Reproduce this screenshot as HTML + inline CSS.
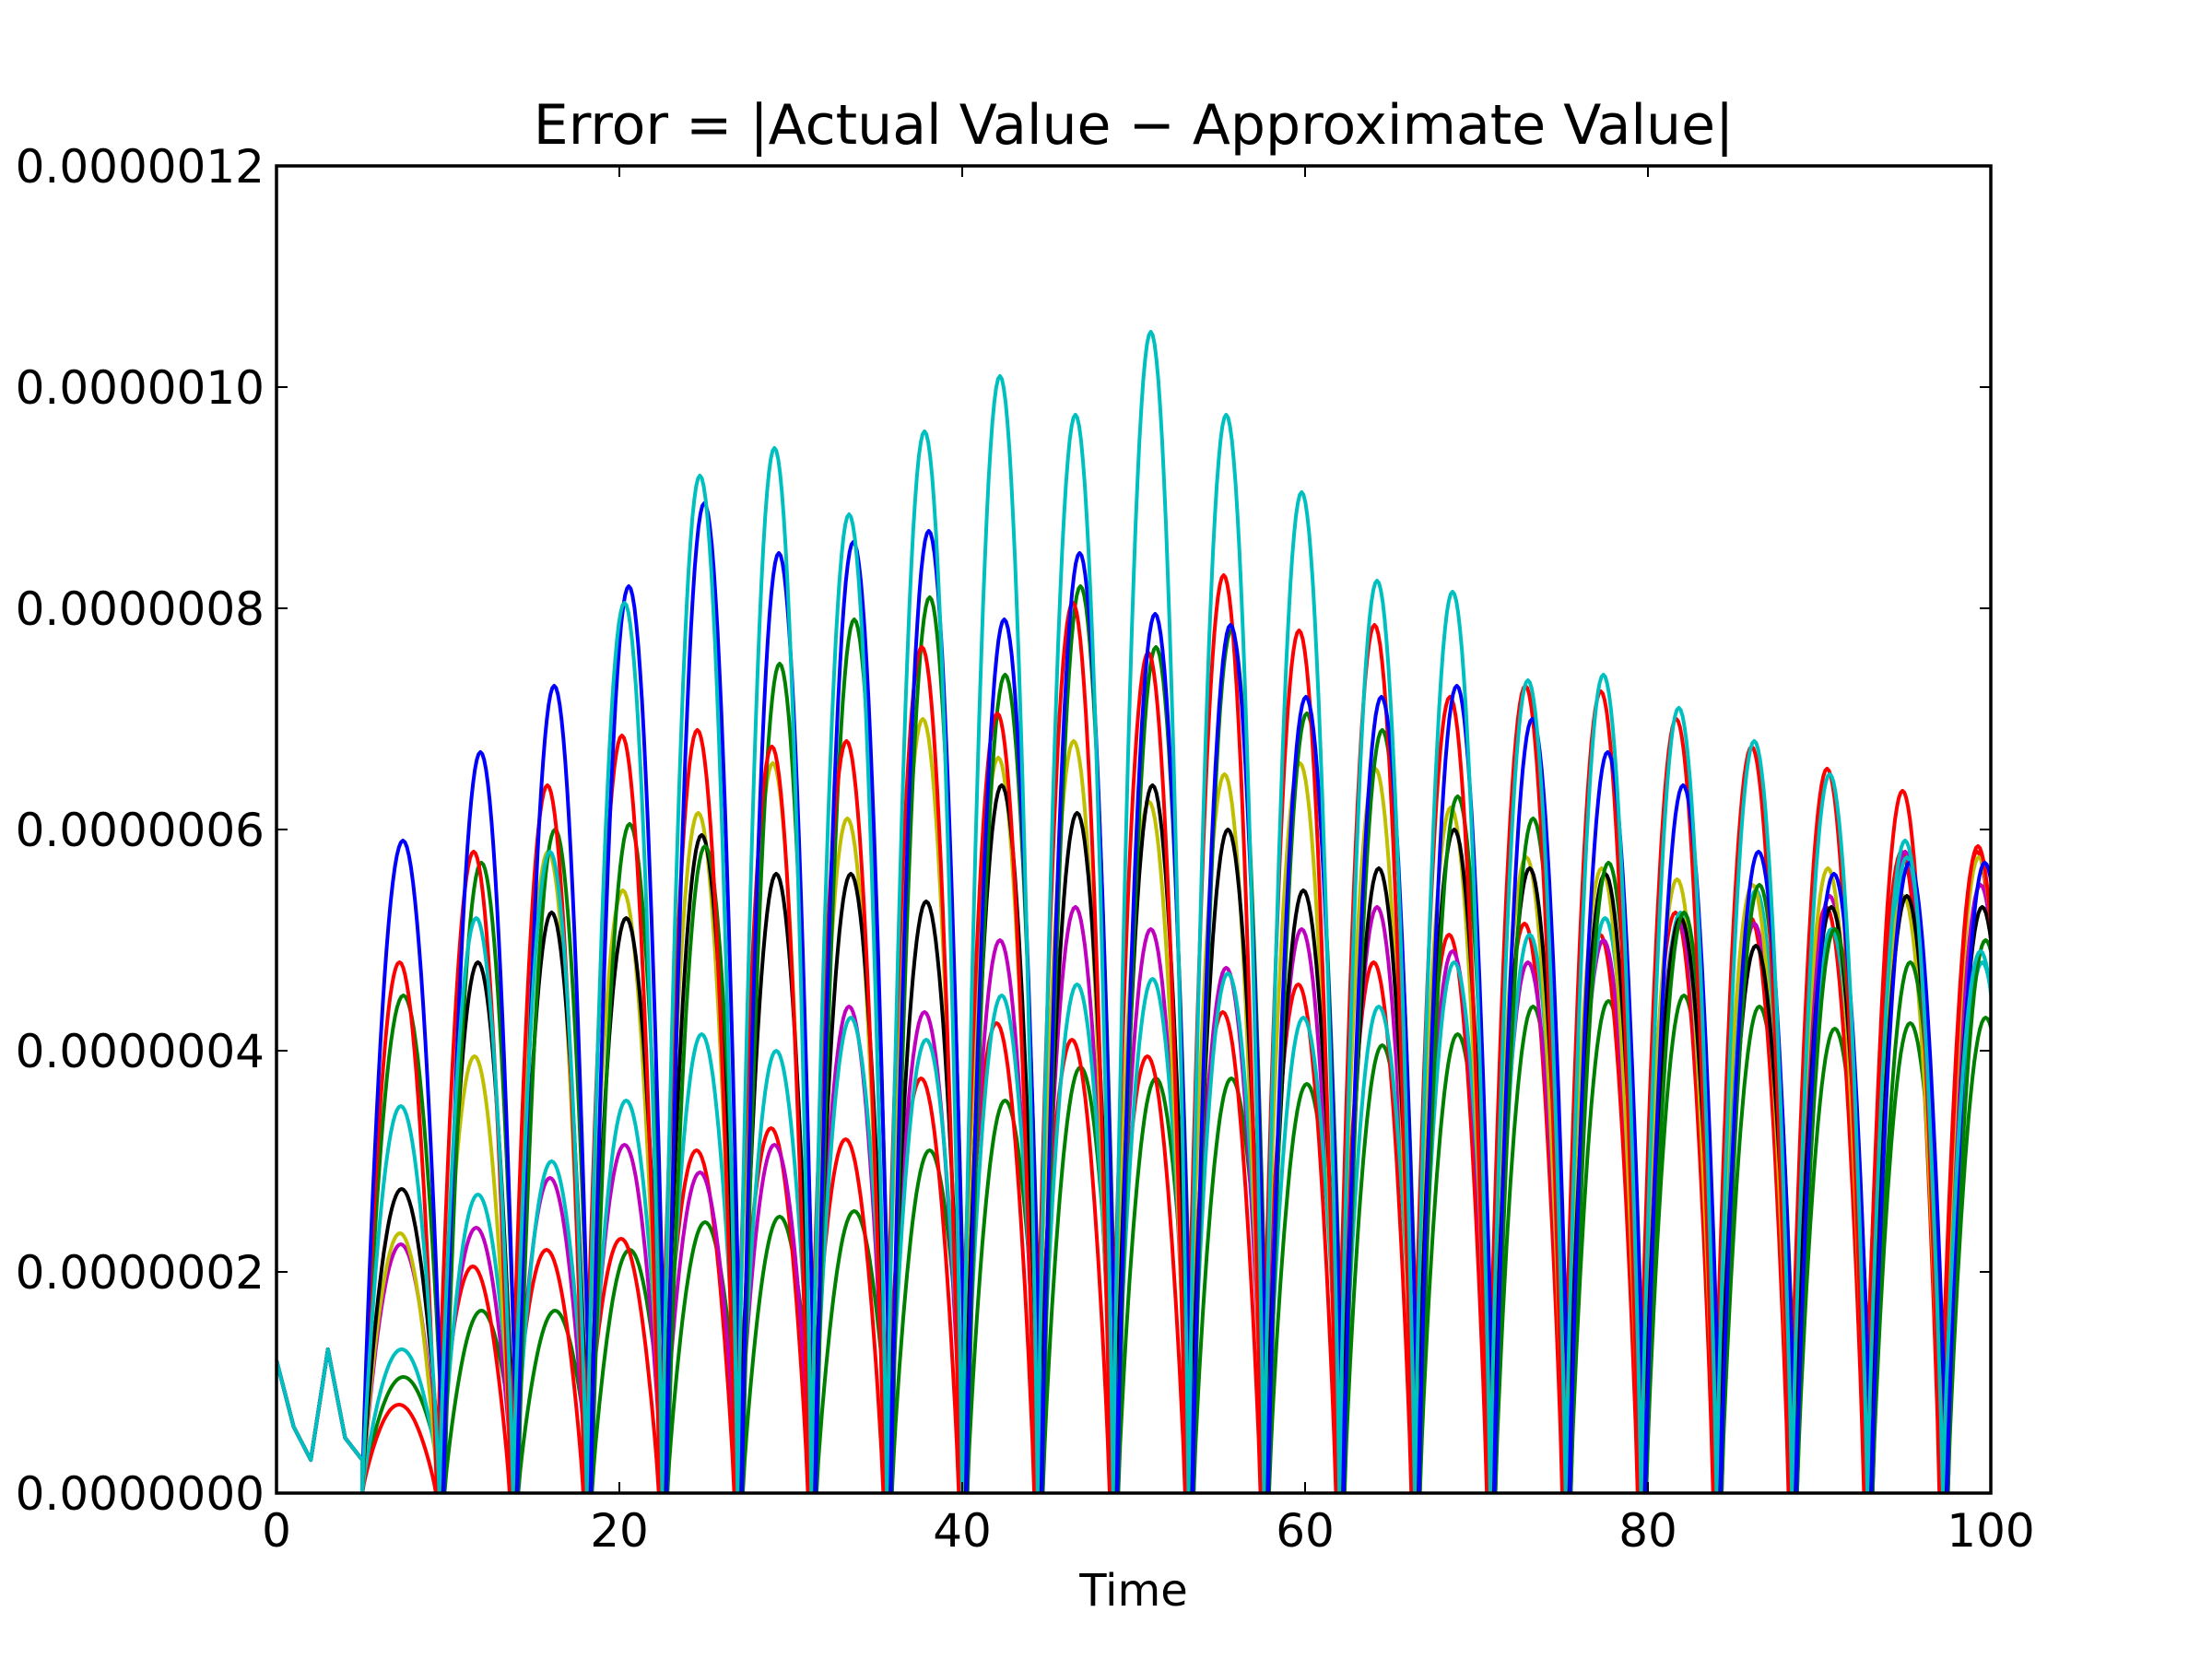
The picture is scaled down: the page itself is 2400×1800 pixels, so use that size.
<!DOCTYPE html>
<html><head><meta charset="utf-8"><style>
html,body{margin:0;padding:0;background:#fff;}
svg{display:block;font-family:"DejaVu Sans","Liberation Sans",sans-serif;}
</style></head><body>
<svg id="chart" width="2400" height="1800" viewBox="0 0 2400 1800" xmlns="http://www.w3.org/2000/svg">
<rect width="2400" height="1800" fill="#fff"/>
<text x="1230" y="156" font-size="60" text-anchor="middle">Error = |Actual Value − Approximate Value|</text>
<text x="1230" y="1742" font-size="48" text-anchor="middle">Time</text>
<g id="series"></g>
<g id="axes"></g>
</svg>
<script>
const xTicks = [0, 20, 40, 60, 80, 100];
const yTicks = [0, 2e-7, 4e-7, 6e-7, 8e-7, 10e-7, 12e-7];
const yTickLabels = ["0.0000000","0.0000002","0.0000004","0.0000006","0.0000008","0.0000010","0.0000012"];
// zero crossings (time) separating humps
const zeros = [5, 9.5, 13.8, 18.1, 22.5, 26.9, 31.2, 35.6, 40, 44.4, 48.8, 53.2, 57.6, 62, 66.4, 70.8, 75.2, 79.6, 84, 88.4, 92.8, 97.2, 101.6];
// hump peaks in units of 1e-7
const cyanPeaks   = [3.5,5.2,5.8,8.05,9.2,9.45,8.85,9.6,10.1,9.75,10.5,9.75,9.05,8.25,8.15,7.35,7.4,7.1,6.8,6.5,5.9,4.9];
const bluePeaks   = [5.9,6.7,7.3,8.2,8.95,8.5,8.6,8.7,7.9,8.5,7.95,7.85,7.2,7.2,7.3,7.0,6.7,6.4,5.8,5.6,5.7,5.7];
const redPeaks    = [4.8,5.8,6.4,6.85,6.9,6.75,6.8,7.65,7.05,8.05,7.6,8.3,7.8,7.85,7.2,7.3,7.25,7.0,6.75,6.55,6.35,5.85];
const red2Peaks   = [0.8,2.05,2.2,2.3,3.1,3.3,3.2,3.75,4.25,4.1,3.95,4.35,4.6,4.8,5.05,5.15,5.05,5.25,5.2,5.3,5.8,5.8];
const greenPeaks  = [4.5,5.7,6.0,6.05,5.85,7.5,7.9,8.1,7.4,8.2,7.65,7.8,7.05,6.9,6.3,6.1,5.7,5.25,5.5,5.1,4.8,5.0];
const green2Peaks = [1.05,1.65,1.65,2.2,2.45,2.5,2.55,3.1,3.55,3.85,3.75,3.75,3.7,4.05,4.15,4.4,4.45,4.5,4.4,4.2,4.25,4.3];
const yellowPeaks = [2.35,3.95,5.8,5.45,6.15,6.6,6.1,7.0,6.65,6.8,6.25,6.5,6.6,6.55,6.2,5.75,5.65,5.55,5.5,5.65,5.4,5.75];
const blackPeaks  = [2.75,4.8,5.25,5.2,5.95,5.6,5.6,5.35,6.4,6.15,6.4,6.0,5.45,5.65,6.0,5.65,5.6,5.2,4.95,5.3,5.4,5.3];
const magentaPeaks= [2.25,2.4,2.85,3.15,2.9,3.15,4.4,4.35,5.0,5.3,5.1,4.75,5.1,5.3,4.9,4.8,5.0,5.15,5.15,5.4,5.8,5.5];
const cyan2Peaks  = [1.3,2.7,3.0,3.55,4.15,4.0,4.3,4.1,4.5,4.6,4.65,4.7,4.3,4.4,4.8,5.05,5.2,5.25,5.45,5.1,5.75,4.8];
// early transient values at t = 0..5 (1e-7)
const earlyVals = [1.2, 0.6, 0.3, 1.3, 0.5, 0.3];

const seriesList = [
 {name:"green2", color:"#008000", peaks:green2Peaks, shift:0.3},
 {name:"red2", color:"#ff0000", peaks:red2Peaks, shift:-0.2},
 {name:"magenta", color:"#bf00bf", peaks:magentaPeaks, shift:0.0},
 {name:"cyan2", color:"#00bfbf", peaks:cyan2Peaks, shift:0.1},
 {name:"yellow", color:"#bfbf00", peaks:yellowPeaks, shift:-0.1},
 {name:"black", color:"#000000", peaks:blackPeaks, shift:0.1},
 {name:"green", color:"#008000", peaks:greenPeaks, shift:0.3},
 {name:"red", color:"#ff0000", peaks:redPeaks, shift:-0.15},
 {name:"blue", color:"#0000ff", peaks:bluePeaks, shift:0.25},
 {name:"cyan", color:"#00bfbf", peaks:cyanPeaks, shift:0.0}
];

const L=300, R=2160, T=180, B=1620;
const xs = t => L + (t-0)/(100-0)*(R-L);
const ys = v => B - v/12e-7*(B-T);
const NS="http://www.w3.org/2000/svg";
const sg=document.getElementById('series');
const defs=document.createElementNS(NS,'defs');
defs.innerHTML='<clipPath id="clip"><rect x="'+L+'" y="'+T+'" width="'+(R-L)+'" height="'+(B-T)+'"/></clipPath>';
document.getElementById('chart').insertBefore(defs, sg);
sg.setAttribute('clip-path','url(#clip)');

seriesList.forEach(s=>{
  const pts=[];
  earlyVals.forEach((v,i)=>pts.push([xs(i), ys(v*1e-7)]));
  for(let k=0;k<s.peaks.length;k++){
    const a=(k===0?zeros[0]:zeros[k]+s.shift), b=zeros[k+1]+s.shift;
    const n=40;
    for(let j=0;j<=n;j++){
      const t=a+(b-a)*j/n;
      const v=s.peaks[k]*1e-7*Math.pow(Math.sin(Math.PI*j/n),0.85);
      pts.push([xs(t), ys(v)]);
    }
  }
  const p=document.createElementNS(NS,'path');
  p.setAttribute('d','M'+pts.map(q=>q[0].toFixed(1)+','+q[1].toFixed(1)).join('L'));
  p.setAttribute('fill','none');
  p.setAttribute('stroke',s.color);
  p.setAttribute('stroke-width','4');
  p.setAttribute('stroke-linejoin','round');
  
  
  sg.appendChild(p);
});

const ag=document.getElementById('axes');
let h='<rect x="'+L+'" y="'+T+'" width="'+(R-L)+'" height="'+(B-T)+'" fill="none" stroke="#000" stroke-width="3.5"/>';
xTicks.forEach(t=>{
  const x=xs(t);
  h+='<line x1="'+x+'" y1="'+B+'" x2="'+x+'" y2="'+(B-12)+'" stroke="#000" stroke-width="2"/>';
  h+='<line x1="'+x+'" y1="'+T+'" x2="'+x+'" y2="'+(T+12)+'" stroke="#000" stroke-width="2"/>';
  h+='<text x="'+x+'" y="'+(B+58)+'" font-size="50" text-anchor="middle">'+t+'</text>';
});
yTicks.forEach((v,i)=>{
  const y=ys(v);
  h+='<line x1="'+L+'" y1="'+y+'" x2="'+(L+12)+'" y2="'+y+'" stroke="#000" stroke-width="2"/>';
  h+='<line x1="'+R+'" y1="'+y+'" x2="'+(R-12)+'" y2="'+y+'" stroke="#000" stroke-width="2"/>';
  h+='<text x="'+(L-13)+'" y="'+(y+18)+'" font-size="50" text-anchor="end">'+yTickLabels[i]+'</text>';
});
ag.innerHTML=h;
</script>
</body></html>
